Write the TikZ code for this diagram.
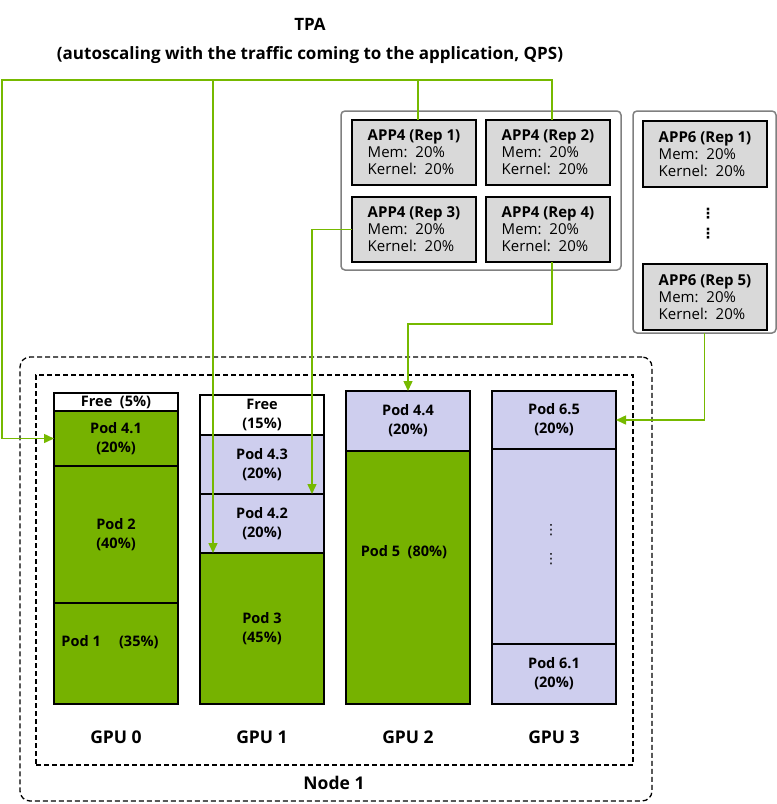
\documentclass[tikz,border=0pt]{standalone}
\usepackage{fontspec}
\setmainfont{Open Sans}
\newfontfamily\symfont{DejaVu Sans}
\usetikzlibrary{positioning,arrows.meta}

\definecolor{podgreen}{RGB}{118,178,0}
\definecolor{flowgreen}{RGB}{118,185,0}
\definecolor{podlav}{RGB}{206,206,238}
\definecolor{appgray}{RGB}{217,217,217}
\definecolor{groupgray}{RGB}{128,128,128}

\tikzset{
  podbox/.style={draw, line width=1.8pt, inner sep=0pt, outer sep=0pt, minimum width=124pt,
    align=center, font=\bfseries\fontsize{14.5}{19}\selectfont},
  appbox/.style={draw, line width=1.8pt, fill=appgray, inner sep=0pt, outer sep=0pt,
    minimum width=124pt, minimum height=65pt, anchor=north west, align=left,
    font=\fontsize{15}{17}\selectfont},
  groupbox/.style={draw=groupgray, line width=1.5pt, rounded corners=4pt, inner sep=0pt,
    outer sep=0pt, anchor=north west},
  nodebox/.style={draw, line width=1.3pt, dash pattern=on 5pt off 3pt, inner sep=0pt,
    outer sep=0pt, anchor=north west},
  flow/.style={draw=flowgreen, line width=1.5pt, -{Triangle[length=10pt,width=9pt]}},
  flowline/.style={draw=flowgreen, line width=1.5pt},
  gpulabel/.style={font=\bfseries\fontsize{17.5}{20}\selectfont},
  dotlabel/.style={inner sep=0pt, font=\symfont\fontsize{14}{14}\selectfont},
}

\begin{document}
\begin{tikzpicture}[x=1pt,y=-1pt]
      \useasboundingbox (0,0) rectangle (777,804);

      % Title
      \node[font=\bfseries\fontsize{17}{20}\selectfont] (tpa) at (310,24) {TPA};
      \node[font=\bfseries\fontsize{17}{20}\selectfont] (tpasub) at (310,55)
        {(autoscaling with the traffic coming to the application, QPS)};

      %% Node 1
      \node[nodebox, rounded corners=10pt, minimum width=632pt, minimum height=444pt] (node1) at (20,357) {};
      \node[nodebox, minimum width=597pt, minimum height=390pt] (node1in) at (36,375) {};
      \node[gpulabel] (node1lbl) at (334,783) {Node 1};
      \coordinate (gpurow) at (0,737);

      %%%%%%%%%%%%%%%%%%%%%%%%%%
      % GPU 0
      \node[podbox, minimum height=18pt, anchor=north west] (free0) at (54,393) {Free\ \ (5\%)};
      \node[podbox, fill=podgreen, minimum height=55pt, below=0pt of free0] (p41) {Pod 4.1\\(20\%)};
      \node[podbox, fill=podgreen, minimum height=137pt, below=0pt of p41] (p2) {Pod 2\\(40\%)};
      \node[podbox, fill=podgreen, minimum height=101pt, below=0pt of p2] (p1) {};
      \node[font=\bfseries\fontsize{14.5}{19}\selectfont] (p1txt) at (110,642) {Pod 1\quad\ (35\%)};
      \node[gpulabel] (gpu0) at (p1.south |- gpurow) {GPU 0};

      %%%%%%%%%%%%%%%%%%%%%%%%%%
      % GPU 1
      \node[podbox, minimum height=40pt, anchor=north west] (free1) at (200,395) {Free\\(15\%)};
      \node[podbox, fill=podlav, minimum height=59pt, below=0pt of free1] (p43) {Pod 4.3\\(20\%)};
      \node[podbox, fill=podlav, minimum height=59pt, below=0pt of p43] (p42) {Pod 4.2\\(20\%)};
      \node[podbox, fill=podgreen, minimum height=151pt, below=0pt of p42] (p3) {Pod 3\\(45\%)};
      \node[gpulabel] (gpu1) at (p3.south |- gpurow) {GPU 1};

      %%%%%%%%%%%%%%%%%%%%%%%%%%
      % GPU 2
      \node[podbox, fill=podlav, minimum height=60pt, anchor=north west] (p44) at (346,391) {Pod 4.4\\(20\%)};
      \node[podbox, fill=podgreen, minimum height=253pt, below=0pt of p44] (p5) {};
      \node[font=\bfseries\fontsize{14.5}{19}\selectfont] (p5txt) at (404,552) {Pod 5\ \ (80\%)};
      \node[gpulabel] (gpu2) at (p5.south |- gpurow) {GPU 2};

      %%%%%%%%%%%%%%%%%%%%%%%%%%
      % GPU 3
      \node[podbox, fill=podlav, minimum height=58pt, anchor=north west] (p65) at (492,391) {Pod 6.5\\(20\%)};
      \node[podbox, fill=podlav, minimum height=195pt, below=0pt of p65] (p6m) {};
      \node[podbox, fill=podlav, minimum height=60pt, below=0pt of p6m] (p61) {Pod 6.1\\(20\%)};
      \node[dotlabel] (p6dot1) at (551,530) {⋮};
      \node[dotlabel] (p6dot2) at (551,559) {⋮};
      \node[gpulabel] (gpu3) at (p61.south |- gpurow) {GPU 3};

      %%%%%%%%%%%%%%%%%%%%%%%%%%
      % APP4 replicas
      \node[groupbox, minimum width=280pt, minimum height=159pt] (g4) at (341,111) {};
      \node[appbox] (a1) at (352,120) {\textbf{APP4 (Rep 1)}\\Mem:\ \ 20\%\\Kernel:\ \ 20\%};
      \node[appbox] (a2) at (486,120) {\textbf{APP4 (Rep 2)}\\Mem:\ \ 20\%\\Kernel:\ \ 20\%};
      \node[appbox] (a3) at (352,197) {\textbf{APP4 (Rep 3)}\\Mem:\ \ 20\%\\Kernel:\ \ 20\%};
      \node[appbox] (a4) at (486,197) {\textbf{APP4 (Rep 4)}\\Mem:\ \ 20\%\\Kernel:\ \ 20\%};

      % APP6 replicas
      \node[groupbox, minimum width=143pt, minimum height=222pt] (g6) at (633,111) {};
      \node[appbox, minimum height=66pt] (b1) at (643,121) {\textbf{APP6 (Rep 1)}\\Mem:\ \ 20\%\\Kernel:\ \ 20\%};
      \node[dotlabel, font=\symfont\bfseries\fontsize{14}{14}\selectfont] (bdot1) at (708,214) {⋮};
      \node[dotlabel, font=\symfont\bfseries\fontsize{14}{14}\selectfont] (bdot2) at (708,234) {⋮};
      \node[appbox, minimum height=66pt] (b5) at (643,264) {\textbf{APP6 (Rep 5)}\\Mem:\ \ 20\%\\Kernel:\ \ 20\%};

      %%%%%%%%%%%%%%%%%%%%%%%%%%
      %% Lines
      \coordinate (bus) at (2,80);
      \coordinate (drop3) at (213,80);
      \draw[flow] ([xshift=4pt]a2.north) |- (bus) |- (p41.west);
      \draw[flowline] ([xshift=4pt]a1.north) |- (bus);
      \draw[flow] (drop3) -- (drop3 |- p3.north);
      \draw[flow] (a3.west) -| ([xshift=-12pt]p42.north east);
      \draw[flow] ([xshift=4pt]a4.south) -- ++(0,62) -| (p44.north);
      \draw[flow] (g6.south) |- (p65.east);
\end{tikzpicture}
\end{document}
